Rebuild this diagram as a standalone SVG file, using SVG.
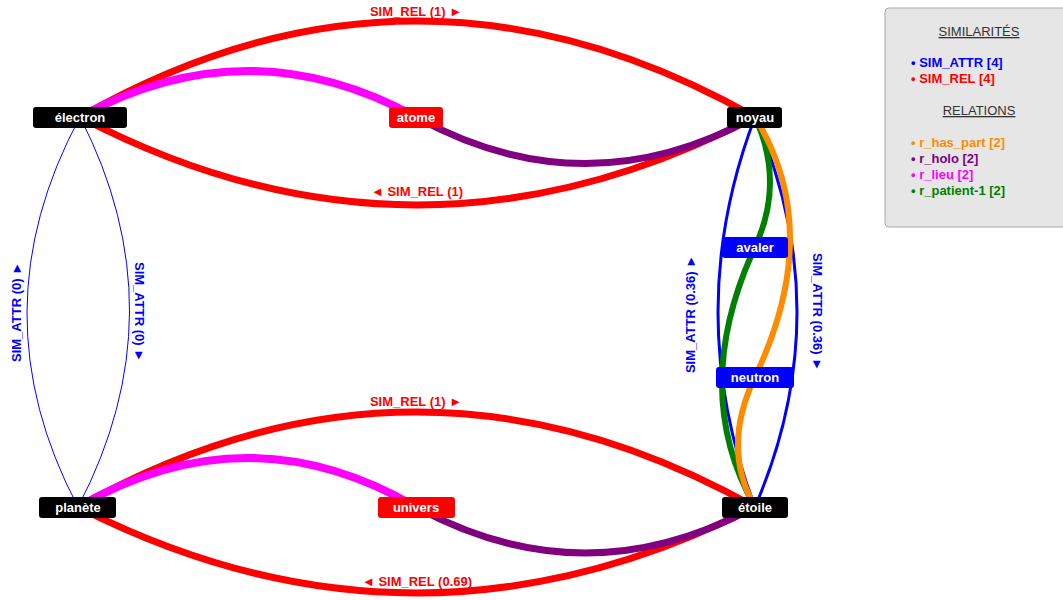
<svg xmlns="http://www.w3.org/2000/svg" width="1063" height="600" viewBox="0 0 1063 600">
<style>
text{font-family:"Liberation Sans","DejaVu Sans",sans-serif;font-weight:bold;font-size:13px}
.e{fill:none}
.nt{fill:#fff;text-anchor:middle}
.lbl{text-anchor:middle}
.red{stroke:#ff0000;stroke-width:7}
.lieu{stroke:#ff00ff;stroke-width:8}
.holo{stroke:#800080;stroke-width:7}
.part{stroke:#ff8c00;stroke-width:6}
.pat{stroke:#008000;stroke-width:6}
.attr{stroke:#0000ff;stroke-width:3}
.attr0{stroke:#0000ff;stroke-width:1}
.leg{font-weight:normal;fill:#333;text-anchor:middle;text-decoration:underline}
</style>
<rect width="1063" height="600" fill="#fff"/>
<g id="connectors">
<path class="e red" d="M80,117 Q416,-75 755,117"/>
<path class="e red" d="M80,117 Q416,293 755,117"/>
<path class="e lieu" d="M80,117 Q248,25 416,117"/>
<path class="e holo" d="M416,117 Q585,210 755,117"/>
<path class="e attr0" d="M80,117 Q-25,312 78,507"/>
<path class="e attr0" d="M80,117 Q180,312 78,507"/>
<path class="e red" d="M78,507 Q416,317 755,507"/>
<path class="e red" d="M78,507 Q416,679 755,507"/>
<path class="e lieu" d="M78,507 Q248,409 416,507"/>
<path class="e holo" d="M416,507 Q585,599 755,507"/>
<path class="e attr" d="M755,117 Q681,312 755,507"/>
<path class="e attr" d="M755,117 Q839,312 755,507"/>
<path class="e pat" d="M755,117 Q785,182 755,247 Q689,390 755,507"/>
<path class="e part" d="M755,117 Q825,230 755,377 Q721,448 755,507"/>
<g fill="#ff0000" class="lbl">
<text x="416" y="16">SIM_REL (1) ►</text>
<text x="417" y="196">◄ SIM_REL (1)</text>
<text x="416" y="406">SIM_REL (1) ►</text>
<text x="417" y="586">◄ SIM_REL (0.69)</text>
</g>
<g fill="#0000ff" class="lbl">
<text transform="translate(21,312) rotate(-90)">SIM_ATTR (0) ►</text>
<text transform="translate(135,312) rotate(90)">SIM_ATTR (0) ►</text>
<text transform="translate(695,314) rotate(-90)">SIM_ATTR (0.36) ►</text>
<text transform="translate(813,312) rotate(90)">SIM_ATTR (0.36) ►</text>
</g>
</g>
<g id="electron"><rect x="33" y="107" width="94" height="21" rx="3" fill="#000"/><text class="nt" x="80" y="122">électron</text></g>
<g id="atome"><rect x="389" y="107" width="54" height="21" rx="3" fill="#ff0000"/><text class="nt" x="416" y="122">atome</text></g>
<g id="noyau"><rect x="727" y="107" width="55" height="21" rx="3" fill="#000"/><text class="nt" x="755" y="122">noyau</text></g>
<g id="avaler"><rect x="722" y="237" width="66" height="21" rx="3" fill="#0000ff"/><text class="nt" x="755" y="252">avaler</text></g>
<g id="neutron"><rect x="716" y="367" width="78" height="21" rx="3" fill="#0000ff"/><text class="nt" x="755" y="382">neutron</text></g>
<g id="planete"><rect x="39" y="497" width="77" height="21" rx="3" fill="#000"/><text class="nt" x="78" y="512">planète</text></g>
<g id="univers"><rect x="378" y="497" width="77" height="21" rx="3" fill="#ff0000"/><text class="nt" x="416" y="512">univers</text></g>
<g id="etoile"><rect x="722" y="497" width="66" height="21" rx="3" fill="#000"/><text class="nt" x="755" y="512">étoile</text></g>
<g id="legend">
<rect x="885" y="8" width="190" height="219" rx="4" fill="#e6e6e6" stroke="#aaa" stroke-width="1"/>
<text class="leg" x="979" y="36">SIMILARITÉS</text>
<text x="911" y="67" fill="#0000ff">• SIM_ATTR [4]</text>
<text x="911" y="83" fill="#ff0000">• SIM_REL [4]</text>
<text class="leg" x="979" y="115">RELATIONS</text>
<text x="911" y="147" fill="#ff8c00">• r_has_part [2]</text>
<text x="911" y="163" fill="#800080">• r_holo [2]</text>
<text x="911" y="179" fill="#ff00ff">• r_lieu [2]</text>
<text x="911" y="195" fill="#008000">• r_patient-1 [2]</text>
</g>
</svg>
